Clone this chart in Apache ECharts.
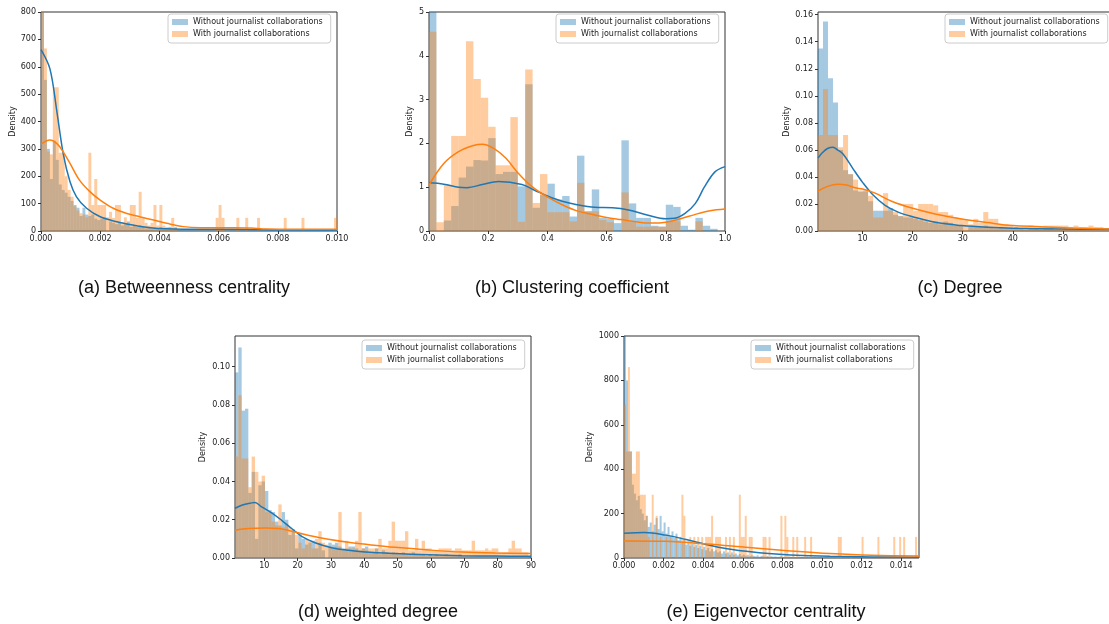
<!DOCTYPE html>
<html>
<head>
<meta charset="utf-8">
<script src="https://cdn.jsdelivr.net/npm/echarts@6.0.0/dist/echarts.min.js"></script>
<style>
  html, body { margin: 0; padding: 0; background: #fff; }
  #chart { width: 1109px; height: 624px; }
</style>
</head>
<body>
<div id="chart"></div>
<script>
// ---- data ----
const nameWithout = 'Without journalist collaborations';
const nameWith = 'With journalist collaborations';
const panelTitles = ['(a) Betweenness centrality', '(b) Clustering coefficient', '(c) Degree',
  '(d) weighted degree', '(e) Eigenvector centrality'];

// (a) betweenness: bins of 0.0001 starting at 0
const btwBinStart = 0, btwBinWidth = 0.0001;
const btwWithout = [
  820, 552, 300, 190, 330, 260, 170, 150, 140, 125,
  110, 95, 85, 55, 85, 60, 55, 60, 45, 40,
  45, 50, 0, 35, 30, 25, 30, 20, 25, 35,
  15, 20, 15, 20, 15, 10, 15, 10, 12, 10,
  15, 8, 10, 15, 8, 12, 6, 5, 6, 4,
  5, 4, 6, 5, 4, 5, 6, 4, 5, 4,
  5, 6, 4, 5, 4, 5, 4, 5, 4, 5,
  4, 4, 5, 4, 4, 5, 4, 4, 4, 5,
  4, 4, 4, 4, 5, 4, 4, 4, 4, 4,
  4, 4, 4, 4, 4, 4, 4, 4, 4, 4];
const btwWith = [
  900, 667, 290, 280, 525, 525, 286, 286, 200, 150,
  125, 90, 75, 65, 60, 50, 286, 95, 190, 95,
  95, 95, 50, 70, 48, 95, 95, 30, 50, 30,
  95, 95, 48, 143, 48, 30, 20, 30, 95, 20,
  95, 20, 15, 10, 48, 15, 0, 0, 0, 0,
  0, 0, 0, 0, 0, 0, 0, 0, 0, 48,
  95, 48, 0, 0, 0, 0, 48, 0, 0, 48,
  0, 0, 0, 48, 0, 0, 0, 0, 0, 0,
  0, 0, 48, 0, 0, 0, 0, 0, 48, 0,
  0, 0, 0, 0, 0, 0, 0, 0, 0, 48];
const btwKdeWithout = [[0, 663], [0.0003, 593], [0.00053, 441], [0.00075, 283], [0.00098, 180], [0.0012, 125],
  [0.00154, 83], [0.002, 52], [0.00256, 34], [0.0031, 22], [0.0037, 12], [0.0042, 8], [0.0054, 6],
  [0.0065, 6], [0.0077, 5], [0.01, 4]];
const btwKdeWith = [[0, 317], [0.0003, 332], [0.00053, 320], [0.00075, 289], [0.00098, 247], [0.0013, 186],
  [0.00166, 143], [0.002, 113], [0.00244, 83], [0.0029, 64], [0.00334, 52], [0.0038, 40], [0.00425, 28],
  [0.0048, 16], [0.0054, 12], [0.0065, 12], [0.0071, 11], [0.0076, 7], [0.0087, 6], [0.01, 6]];

// (b) clustering: bins of 0.025 starting at 0
const clBinStart = 0, clBinWidth = 0.025;
const clWithout = [5.3, 0, 0.24, 0.57, 1.22, 1.47, 1.62, 1.61, 2.12, 1.3,
  1.35, 1.35, 1.02, 3.35, 0.53, 0.82, 1.08, 0.72, 0.8, 0.33,
  1.72, 0.45, 0.95, 0.3, 0.28, 0.18, 2.07, 0.63, 0.3, 0.3,
  0.12, 0.1, 0.6, 0.55, 0.12, 0.03, 0.3, 0.12, 0.05, 0];
const clWith = [4.55, 0.2, 1.05, 2.17, 2.17, 4.33, 3.47, 3.04, 2.38, 1.5,
  1.5, 2.6, 0.21, 3.69, 0.64, 1.3, 0.43, 0.43, 0.43, 0.22,
  1.1, 0.45, 0.45, 0.25, 0.2, 0, 0.88, 0.2, 0.1, 0.1,
  0.1, 0.1, 0.22, 0.22, 0, 0, 0.22, 0, 0, 0];
const clKdeWithout = [[0, 1.1], [0.05, 1.07], [0.1, 1.0], [0.128, 0.99], [0.18, 1.06], [0.235, 1.13],
  [0.314, 1.06], [0.36, 0.92], [0.4, 0.8], [0.45, 0.68], [0.5, 0.6], [0.56, 0.54], [0.62, 0.53],
  [0.674, 0.48], [0.74, 0.36], [0.8, 0.28], [0.83, 0.29], [0.865, 0.4], [0.9, 0.63], [0.93, 1.0],
  [0.966, 1.35], [1.0, 1.47]];
const clKdeWith = [[0, 1.05], [0.05, 1.54], [0.1, 1.81], [0.15, 1.95], [0.18, 1.98], [0.22, 1.88],
  [0.26, 1.66], [0.3, 1.33], [0.35, 1.0], [0.4, 0.78], [0.45, 0.6], [0.5, 0.46], [0.55, 0.38],
  [0.6, 0.31], [0.65, 0.26], [0.7, 0.21], [0.75, 0.18], [0.8, 0.2], [0.85, 0.28], [0.9, 0.38],
  [0.95, 0.46], [1.0, 0.5]];

// (c) degree: bins of 1 starting at 1.1
const degBinStart = 1.1, degBinWidth = 1;
const degWithout = [0.135, 0.155, 0.113, 0.095, 0.06, 0.045, 0.042, 0.03, 0.029, 0.03,
  0.022, 0.015, 0.015, 0.015, 0.017, 0.012, 0.011, 0.01, 0.01, 0.009,
  0.008, 0.007, 0.006, 0.007, 0.005, 0.007, 0.006, 0.004, 0.004, 0,
  0.003, 0.003, 0.003, 0.004, 0.003, 0.002, 0.003, 0.002, 0.002, 0.003,
  0.002, 0.001, 0.002, 0.002, 0.001, 0.002, 0.002, 0.001, 0.001, 0.002,
  0.002, 0.001, 0.001, 0.001, 0.001, 0.001, 0.0015, 0.001, 0.001];
const degWith = [0.071, 0.105, 0.071, 0.071, 0.062, 0.071, 0.042, 0.038, 0.03, 0.029,
  0.026, 0.01, 0.01, 0.028, 0.015, 0.014, 0.011, 0.02, 0.02, 0.015,
  0.02, 0.02, 0.02, 0.019, 0.014, 0.014, 0.012, 0.01, 0.009, 0.008,
  0.005, 0.009, 0.006, 0.014, 0.009, 0.009, 0.005, 0.005, 0.004, 0.003,
  0.003, 0.003, 0.004, 0.003, 0.003, 0.004, 0.004, 0.004, 0.004, 0.004,
  0.003, 0.004, 0.003, 0.003, 0.004, 0.003, 0.003, 0.002, 0.002];
const degKdeWithout = [[1.1, 0.054], [2, 0.058], [3, 0.061], [4.1, 0.062], [5, 0.06], [6.1, 0.057],
  [8.1, 0.046], [10, 0.036], [12, 0.027], [14.5, 0.019], [17.1, 0.014], [20, 0.0106], [24.5, 0.0064],
  [29.8, 0.004], [35, 0.0027], [40, 0.002], [50, 0.0015], [60, 0.0012]];
const degKdeWith = [[1.1, 0.0296], [3, 0.033], [5.1, 0.0346], [6.8, 0.034], [8.5, 0.032], [10, 0.031],
  [12.5, 0.028], [15.8, 0.022], [20, 0.0168], [24.5, 0.0126], [29.8, 0.0089], [35, 0.0062],
  [40, 0.004], [45.5, 0.0032], [52, 0.0022], [60, 0.0015]];

// (d) weighted degree: bins of 1 starting at 1.2
const wdBinStart = 1.2, wdBinWidth = 1;
const wdWithout = [0.097, 0.11, 0.077, 0.078, 0.034, 0.045, 0.01, 0.038, 0.04, 0.035,
  0.025, 0.024, 0.019, 0.017, 0.024, 0.02, 0.012, 0.015, 0.005, 0.013,
  0.01, 0.007, 0.008, 0.009, 0.005, 0.008, 0.004, 0, 0.008, 0.007,
  0.008, 0.006, 0.005, 0.005, 0.006, 0.006, 0.005, 0.004, 0.005, 0.006,
  0.003, 0.003, 0.005, 0.002, 0.004, 0.003, 0.002, 0.003, 0.003, 0.002,
  0.003, 0.002, 0.002, 0.003, 0.002, 0.002, 0.002, 0.001, 0.002, 0.001,
  0.002, 0.001, 0.001, 0.002, 0.001, 0.001, 0.001, 0.002, 0.001, 0.001,
  0.001, 0.001, 0.001, 0.001, 0.001, 0.001, 0.001, 0.001, 0.001, 0.001,
  0.001, 0.001, 0.001, 0.001, 0.001, 0.001, 0.001, 0.001, 0.001];
const wdWith = [0.053, 0.085, 0.052, 0.052, 0.037, 0.053, 0.045, 0.04, 0.043, 0.024,
  0.024, 0.019, 0.017, 0.028, 0.016, 0.018, 0.016, 0.014, 0.012, 0.008,
  0.005, 0.01, 0.009, 0.005, 0.01, 0.014, 0.008, 0.007, 0.006, 0.005,
  0.006, 0.024, 0.004, 0.009, 0.005, 0.005, 0.009, 0.024, 0.005, 0.004,
  0.005, 0.005, 0.005, 0.01, 0.005, 0.005, 0.009, 0.019, 0.009, 0.009,
  0.009, 0.014, 0.004, 0.004, 0.01, 0.004, 0.009, 0.005, 0.005, 0.004,
  0.004, 0.005, 0.005, 0.005, 0.005, 0.004, 0.005, 0.005, 0.004, 0.004,
  0.004, 0.009, 0.004, 0.004, 0.004, 0.005, 0.004, 0.005, 0.005, 0.003,
  0.003, 0.003, 0.005, 0.009, 0.005, 0.005, 0.003, 0.003, 0];
const wdKdeWithout = [[1.2, 0.026], [3.2, 0.0276], [6.2, 0.0288], [7.2, 0.029], [9.2, 0.0267],
  [12.2, 0.0236], [15.2, 0.0197], [18.2, 0.0154], [21.2, 0.0113], [25.2, 0.008], [30.2, 0.0054],
  [35.2, 0.004], [40.2, 0.0031], [49.2, 0.0023], [59.3, 0.0017], [69.3, 0.0012], [79.3, 0.001], [90, 0.0009]];
const wdKdeWith = [[1.2, 0.0145], [5.2, 0.0154], [10.2, 0.0157], [14.2, 0.0154], [19.2, 0.0136],
  [24.2, 0.0115], [29.2, 0.0098], [35.2, 0.0082], [41.2, 0.007], [49.2, 0.0056], [59.3, 0.0042],
  [69.3, 0.0031], [79.3, 0.0026], [90, 0.0024]];

// (e) eigenvector: bins of 0.0001 starting at 0
const eigBinStart = 0, eigBinWidth = 0.0001;
const eigWithout = [
  1050, 800, 480, 480, 330, 290, 260, 280, 220, 200,
  170, 190, 140, 160, 120, 150, 180, 130, 190, 120,
  160, 110, 140, 100, 120, 90, 110, 80, 95, 70,
  85, 60, 75, 55, 65, 50, 60, 45, 55, 40,
  50, 35, 45, 30, 40, 30, 35, 25, 30, 20,
  30, 20, 25, 15, 25, 15, 20, 12, 18, 10,
  15, 10, 14, 8, 12, 10, 8, 12, 6, 10,
  8, 6, 9, 5, 8, 6, 7, 5, 6, 8,
  5, 6, 4, 7, 5, 6, 4, 5, 6, 4,
  5, 4, 6, 3, 5, 4, 5, 3, 4, 5,
  3, 4, 5, 3, 4, 3, 5, 3, 4, 3,
  4, 3, 3, 4, 2, 3, 4, 3, 2, 3,
  3, 2, 3, 4, 2, 3, 2, 3, 2, 3,
  2, 3, 2, 2, 3, 2, 2, 3, 2, 2,
  3, 2, 2, 3, 2, 2, 2, 3, 2];
const eigWith = [
  690, 480, 860, 480, 380, 380, 480, 480, 285, 285,
  285, 190, 95, 0, 285, 0, 190, 0, 95, 0,
  0, 95, 0, 95, 0, 0, 95, 0, 0, 285,
  190, 0, 0, 95, 0, 95, 0, 95, 0, 95,
  0, 95, 95, 95, 190, 0, 95, 95, 95, 0,
  0, 95, 0, 95, 0, 95, 0, 0, 285, 95,
  95, 190, 0, 95, 95, 0, 0, 0, 0, 0,
  95, 95, 0, 95, 0, 0, 0, 0, 0, 190,
  0, 190, 95, 0, 0, 95, 0, 95, 0, 0,
  0, 95, 0, 0, 95, 0, 0, 0, 0, 0,
  0, 0, 0, 0, 0, 0, 0, 0, 95, 95,
  0, 0, 0, 0, 0, 0, 0, 0, 0, 0,
  95, 0, 0, 0, 0, 0, 0, 0, 95, 0,
  0, 0, 0, 0, 0, 0, 95, 0, 0, 95,
  0, 95, 0, 0, 0, 0, 0, 95, 0];
const eigKdeWithout = [[0, 112], [0.00105, 115], [0.0021, 103], [0.00314, 83], [0.0042, 60], [0.0052, 42],
  [0.0063, 29], [0.0073, 20], [0.0084, 14], [0.0104, 8], [0.0125, 5], [0.0149, 3]];
const eigKdeWith = [[0, 77], [0.0021, 75], [0.0042, 63], [0.0063, 47], [0.0084, 32], [0.0104, 20],
  [0.0125, 12], [0.0149, 9]];

// ---- styling ----
const BLUE = '#1f77b4', ORANGE = '#ff7f0e';
const BLUE_FILL = 'rgba(31,119,180,0.4)', ORANGE_FILL = 'rgba(255,127,14,0.4)';
const TICK_FONT = { fontSize: 8, color: '#222', fontFamily: 'DejaVu Sans' };

const panels = [
  { grid: [41, 12, 296, 219], x: [0, 0.01], xt: [0, 0.002, 0.004, 0.006, 0.008, 0.01], xd: 3,
    y: [0, 800], yt: [0, 100, 200, 300, 400, 500, 600, 700, 800], yd: 0, nameGap: 24,
    bins: [btwBinStart, btwBinWidth, btwWithout, btwWith], kde: [btwKdeWithout, btwKdeWith],
    legend: [168, 14], title: [184, 288] },
  { grid: [429, 12, 296, 219], x: [0, 1], xt: [0, 0.2, 0.4, 0.6, 0.8, 1], xd: 1,
    y: [0, 5], yt: [0, 1, 2, 3, 4, 5], yd: 0, nameGap: 15,
    bins: [clBinStart, clBinWidth, clWithout, clWith], kde: [clKdeWithout, clKdeWith],
    legend: [556, 14], title: [572, 288] },
  { grid: [818, 12, 295, 219], x: [1.1, 60], xt: [10, 20, 30, 40, 50], xd: 0,
    y: [0, 0.162], yt: [0, 0.02, 0.04, 0.06, 0.08, 0.1, 0.12, 0.14, 0.16], yd: 2, nameGap: 27,
    bins: [degBinStart, degBinWidth, degWithout, degWith], kde: [degKdeWithout, degKdeWith],
    legend: [945, 14], title: [960, 288] },
  { grid: [235, 336, 296, 222], x: [1.2, 90], xt: [10, 20, 30, 40, 50, 60, 70, 80, 90], xd: 0,
    y: [0, 0.116], yt: [0, 0.02, 0.04, 0.06, 0.08, 0.1], yd: 2, nameGap: 28,
    bins: [wdBinStart, wdBinWidth, wdWithout, wdWith], kde: [wdKdeWithout, wdKdeWith],
    legend: [362, 340], title: [378, 612] },
  { grid: [624, 336, 295, 222], x: [0, 0.0149], xt: [0, 0.002, 0.004, 0.006, 0.008, 0.01, 0.012, 0.014], xd: 3,
    y: [0, 1000], yt: [0, 200, 400, 600, 800, 1000], yd: 0, nameGap: 30,
    bins: [eigBinStart, eigBinWidth, eigWithout, eigWith], kde: [eigKdeWithout, eigKdeWith],
    legend: [751, 340], title: [766, 612] }
];

function binRows(start, width, heights) {
  return heights.map((h, i) => [start + i * width, start + (i + 1) * width, h]);
}

function histSeries(name, idx, rows, fill) {
  return {
    type: 'custom', name, xAxisIndex: idx, yAxisIndex: idx,
    itemStyle: { color: fill },
    encode: { x: [0, 1], y: 2 },
    data: rows, silent: true, animation: false,
    renderItem: (params, api) => {
      const a = api.coord([api.value(0), api.value(2)]);
      const b = api.coord([api.value(1), 0]);
      const rect = echarts.graphic.clipRectByRect(
        { x: a[0], y: a[1], width: b[0] - a[0], height: b[1] - a[1] }, params.coordSys);
      return rect ? { type: 'rect', shape: rect, style: { fill } } : null;
    }
  };
}

function kdeSeries(idx, pts, color) {
  return {
    type: 'line', name: 'kde', xAxisIndex: idx, yAxisIndex: idx, data: pts,
    smooth: 0.35, showSymbol: false, symbol: 'none', clip: true, silent: true, animation: false,
    lineStyle: { color, width: 1.5 }, itemStyle: { color }
  };
}

const option = {
  backgroundColor: '#fff',
  animation: false,
  grid: [], xAxis: [], yAxis: [], legend: [], series: [], graphic: []
};

panels.forEach((p, i) => {
  option.grid.push({ left: p.grid[0], top: p.grid[1], width: p.grid[2], height: p.grid[3],
    show: true, borderColor: '#333', borderWidth: 1, backgroundColor: 'transparent',
    containLabel: false, outerBoundsMode: 'none' });
  option.xAxis.push({ type: 'value', gridIndex: i, min: p.x[0], max: p.x[1],
    splitLine: { show: false }, axisLine: { show: false },
    axisTick: { show: true, length: 3, lineStyle: { color: '#333' }, customValues: p.xt },
    axisLabel: Object.assign({ customValues: p.xt, margin: 4, formatter: v => v.toFixed(p.xd) }, TICK_FONT) });
  option.yAxis.push({ type: 'value', gridIndex: i, min: p.y[0], max: p.y[1],
    name: 'Density', nameLocation: 'middle', nameGap: p.nameGap, nameRotate: 90,
    nameTextStyle: TICK_FONT,
    splitLine: { show: false }, axisLine: { show: false },
    axisTick: { show: true, length: 3, lineStyle: { color: '#333' }, customValues: p.yt },
    axisLabel: Object.assign({ customValues: p.yt, margin: 5, formatter: v => v.toFixed(p.yd) }, TICK_FONT) });
  const [start, width, without, withJ] = p.bins;
  option.series.push(histSeries(nameWithout, i, binRows(start, width, without), BLUE_FILL));
  option.series.push(kdeSeries(i, p.kde[0], BLUE));
  option.series.push(histSeries(nameWith, i, binRows(start, width, withJ), ORANGE_FILL));
  option.series.push(kdeSeries(i, p.kde[1], ORANGE));
  option.legend.push({ left: p.legend[0], top: p.legend[1], orient: 'vertical',
    data: [nameWithout, nameWith], icon: 'rect', itemWidth: 16, itemHeight: 6, itemGap: 0,
    padding: [2, 8, 3, 4], borderColor: '#cccccc', borderWidth: 1, borderRadius: 3,
    backgroundColor: 'rgba(255,255,255,0.8)', selectedMode: false,
    textStyle: Object.assign({ lineHeight: 12 }, TICK_FONT) });
  option.graphic.push({ type: 'text', x: p.title[0], y: p.title[1],
    style: { text: panelTitles[i], font: '18px "Liberation Sans"', fill: '#111',
      textAlign: 'center', textVerticalAlign: 'middle', align: 'center', verticalAlign: 'middle' } });
});

const chart = echarts.init(document.getElementById('chart'), null, { renderer: 'canvas' });
chart.setOption(option);
</script>
</body>
</html>
